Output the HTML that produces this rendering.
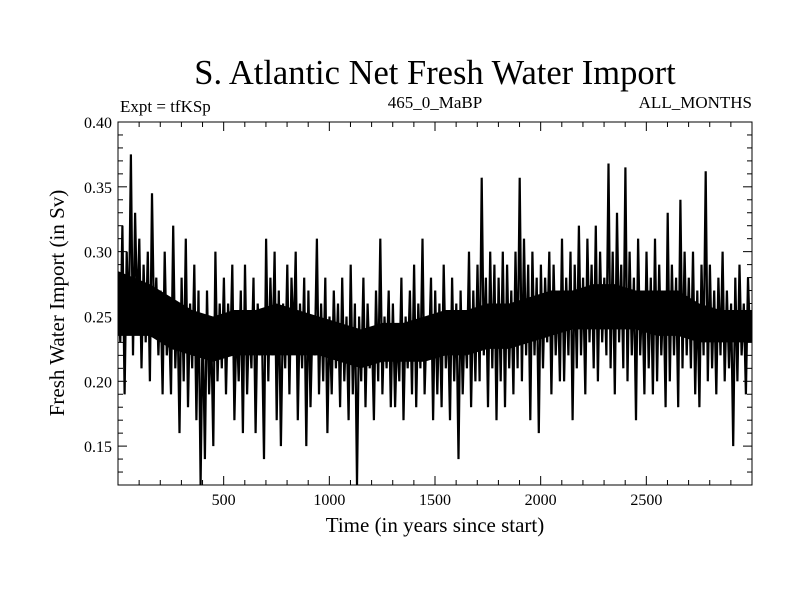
<!DOCTYPE html>
<html><head><meta charset="utf-8"><style>
body{margin:0;background:#fff}
svg text{font-family:"Liberation Serif",serif;fill:#000}
</style></head><body>
<svg id="c" width="800" height="600" xmlns="http://www.w3.org/2000/svg">
<text x="435" y="84" font-size="34.5" text-anchor="middle">S. Atlantic Net Fresh Water Import</text>
<text x="120" y="112" font-size="17">Expt = tfKSp</text>
<text x="435" y="108" font-size="17" text-anchor="middle">465_0_MaBP</text>
<text x="752" y="108" font-size="17" text-anchor="end">ALL_MONTHS</text>
<text transform="translate(64,303) rotate(-90)" font-size="21" text-anchor="middle">Fresh Water Import (in Sv)</text>
<text x="435" y="532" font-size="21" text-anchor="middle">Time (in years since start)</text>
<defs><clipPath id="pc"><rect x="118" y="122" width="634" height="363"/></clipPath></defs>
<g id="series" clip-path="url(#pc)"></g>
<g id="axes"></g>
</svg>
<script>
const xTicks=[500,1000,1500,2000,2500];
const yTicks=[0.40,0.35,0.30,0.25,0.20,0.15];
const yTickLabels=["0.40","0.35","0.30","0.25","0.20","0.15"];
const stepYears=10;
const values=[
0.27,0.23,0.32,0.19,0.30,0.24,0.375,0.22,0.33,0.25,
0.31,0.21,0.29,0.23,0.30,0.20,0.345,0.24,0.28,0.22,
0.27,0.19,0.30,0.22,0.25,0.19,0.32,0.21,0.26,0.16,
0.28,0.20,0.31,0.18,0.26,0.21,0.29,0.17,0.27,0.12,
0.25,0.14,0.27,0.19,0.24,0.15,0.30,0.20,0.26,0.21,
0.28,0.19,0.26,0.22,0.29,0.17,0.25,0.20,0.27,0.16,
0.29,0.19,0.25,0.21,0.28,0.16,0.26,0.22,0.24,0.14,
0.31,0.20,0.28,0.22,0.30,0.17,0.27,0.15,0.26,0.21,
0.29,0.19,0.28,0.23,0.30,0.17,0.26,0.21,0.28,0.15,
0.27,0.18,0.25,0.22,0.31,0.19,0.26,0.20,0.28,0.16,
0.25,0.19,0.27,0.21,0.26,0.18,0.28,0.20,0.25,0.17,
0.29,0.19,0.26,0.12,0.25,0.20,0.28,0.18,0.26,0.21,
0.24,0.17,0.27,0.20,0.31,0.19,0.25,0.21,0.27,0.18,
0.26,0.18,0.24,0.20,0.28,0.17,0.25,0.21,0.27,0.19,
0.29,0.18,0.26,0.21,0.31,0.19,0.25,0.22,0.28,0.17,
0.27,0.19,0.26,0.18,0.29,0.21,0.25,0.17,0.28,0.20,
0.26,0.14,0.27,0.19,0.25,0.21,0.30,0.18,0.27,0.20,
0.29,0.20,0.357,0.22,0.28,0.18,0.30,0.21,0.29,0.17,
0.28,0.20,0.30,0.18,0.29,0.21,0.27,0.19,0.30,0.21,
0.357,0.20,0.31,0.22,0.29,0.17,0.30,0.22,0.28,0.16,
0.29,0.21,0.28,0.23,0.30,0.19,0.29,0.22,0.27,0.20,
0.31,0.20,0.28,0.22,0.30,0.17,0.29,0.21,0.32,0.22,
0.28,0.19,0.31,0.23,0.29,0.21,0.32,0.20,0.30,0.23,
0.28,0.22,0.368,0.21,0.30,0.19,0.33,0.23,0.29,0.21,
0.365,0.20,0.30,0.22,0.28,0.17,0.31,0.22,0.27,0.19,
0.30,0.21,0.28,0.19,0.31,0.20,0.29,0.22,0.27,0.18,
0.33,0.20,0.29,0.22,0.28,0.18,0.34,0.21,0.30,0.22,
0.28,0.21,0.30,0.19,0.27,0.18,0.29,0.22,0.362,0.20,
0.29,0.21,0.27,0.19,0.28,0.22,0.30,0.20,0.27,0.21,
0.26,0.15,0.28,0.20,0.29,0.22,0.26,0.19,0.28,0.23];
const coreLow=[0.235,0.235,0.225,0.22,0.215,0.22,0.22,0.22,0.22,0.22,0.215,0.21,0.215,0.215,0.215,0.22,0.22,0.225,0.225,0.23,0.235,0.24,0.24,0.24,0.24,0.235,0.235,0.23,0.23,0.23];
const coreHigh=[0.285,0.275,0.265,0.255,0.25,0.255,0.255,0.26,0.255,0.25,0.245,0.24,0.245,0.245,0.25,0.255,0.255,0.26,0.26,0.265,0.27,0.27,0.275,0.275,0.27,0.27,0.27,0.26,0.255,0.255];
const X0=118,X1=752,Y0=485,Y1=122,XMIN=0,XMAX=3000,YMIN=0.12,YMAX=0.40;
const sx=v=>X0+(v-XMIN)/(XMAX-XMIN)*(X1-X0);
const sy=v=>Y0-(v-YMIN)/(YMAX-YMIN)*(Y0-Y1);
const NS="http://www.w3.org/2000/svg";
function mk(t,a,p){const e=document.createElementNS(NS,t);for(const k in a)e.setAttribute(k,a[k]);p.appendChild(e);return e;}
const ser=document.getElementById('series');
let bd='';
coreHigh.forEach((v,i)=>{bd+=(i?'L':'M')+sx(i*100+(i===0?0:50)).toFixed(1)+','+sy(v).toFixed(1);});
bd+='L'+sx(XMAX).toFixed(1)+','+sy(coreHigh[coreHigh.length-1]).toFixed(1);
bd+='L'+sx(XMAX).toFixed(1)+','+sy(coreLow[coreLow.length-1]).toFixed(1);
for(let i=coreLow.length-1;i>=0;i--){bd+='L'+sx(i*100+(i===0?0:50)).toFixed(1)+','+sy(coreLow[i]).toFixed(1);}
const band=mk('path',{d:bd+'Z',fill:'#000'},ser);


let d='';values.forEach((v,i)=>{d+=(i?'L':'M')+sx(i*stepYears+1).toFixed(1)+','+sy(v).toFixed(1);});
const line=mk('path',{d:d,fill:'none',stroke:'#000','stroke-width':'2.2','stroke-linejoin':'miter'},ser);


const ax=document.getElementById('axes');
const frame=mk('rect',{x:X0,y:Y1,width:X1-X0,height:Y0-Y1,fill:'none',stroke:'#000','stroke-width':'1'},ax);


for(let t=100;t<XMAX;t+=100){const x=sx(t),L=(t%500===0)?9:5;
mk('line',{x1:x,x2:x,y1:Y0,y2:Y0-L,stroke:'#000'},ax);mk('line',{x1:x,x2:x,y1:Y1,y2:Y1+L,stroke:'#000'},ax);}
for(let k=13;k<40;k++){const v=k/100,y=sy(v),L=(k%5===0)?9:5;
mk('line',{x1:X0,x2:X0+L,y1:y,y2:y,stroke:'#000'},ax);mk('line',{x1:X1,x2:X1-L,y1:y,y2:y,stroke:'#000'},ax);}
xTicks.forEach(t=>{const e=mk('text',{x:sx(t),y:Y0+20,'font-size':'16','text-anchor':'middle'},ax);e.textContent=t;

});
yTicks.forEach((t,i)=>{const e=mk('text',{x:X0-6,y:sy(t)+6,'font-size':'16','text-anchor':'end'},ax);e.textContent=yTickLabels[i];

});
</script>
</body></html>
